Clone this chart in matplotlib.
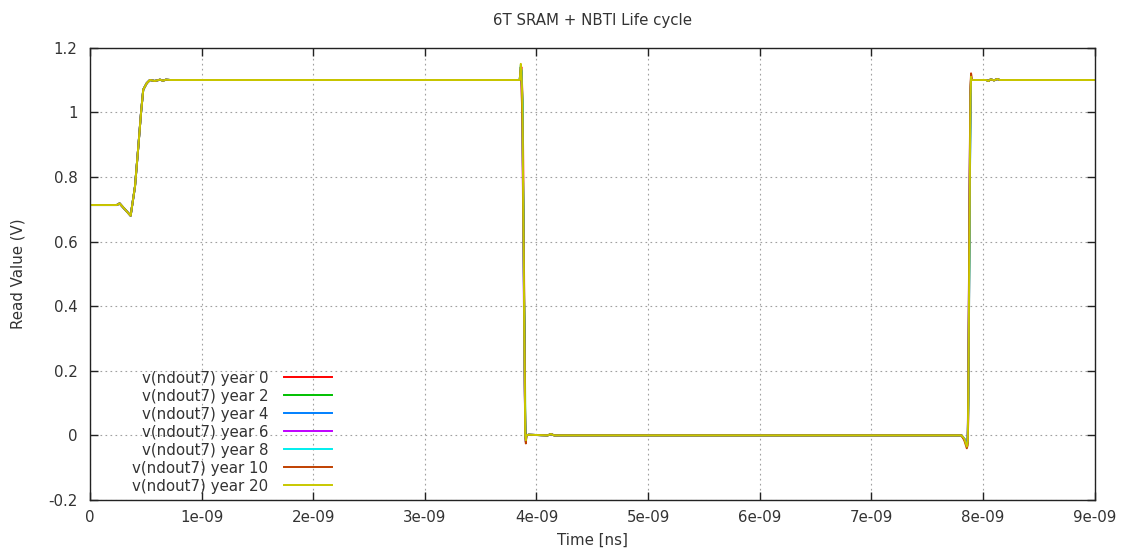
import matplotlib
matplotlib.use("Agg")
import matplotlib.pyplot as plt

plt.rcParams['font.family'] = ['DejaVu Sans']

# ---- data (times in ns, values in V) ----
t_start = [0.0, 0.24, 0.265, 0.364, 0.403, 0.433, 0.457, 0.477, 0.508, 0.537,
           0.58, 0.627, 0.654, 0.68, 0.72]
v_start = [0.713, 0.713, 0.718, 0.680, 0.77, 0.894, 0.998, 1.070, 1.090, 1.100,
           1.097, 1.101, 1.098, 1.101, 1.100]

t_fall = [3.81, 3.85, 3.855, 3.860, 3.865, 3.870, 3.875, 3.880, 3.885, 3.890,
          3.895, 3.900, 3.905, 3.910, 3.93]
t_low = [4.10, 4.13, 4.16, 7.80]
v_low = [0.0, 0.004, 0.0, 0.0]
t_rise = [7.808, 7.833, 7.856, 7.864, 7.869, 7.874, 7.879, 7.884, 7.889, 7.894,
          7.899, 7.907, 7.925]
t_high = [8.03, 8.05, 8.07, 8.10, 8.13, 8.15, 9.0]
v_high = [1.100, 1.097, 1.102, 1.099, 1.103, 1.100, 1.100]

fall_y0 = [1.10, 1.10, 1.11, 1.13, 1.14, 1.10, 1.04, 0.90, 0.70, 0.45, 0.16, 0.02, -0.02, 0.00, 0.002]
fall_y2 = [1.10, 1.10, 1.12, 1.14, 1.13, 1.09, 1.02, 0.80, 0.62, 0.42, 0.30, 0.05, -0.01, 0.00, 0.002]
fall_y4 = [1.10, 1.10, 1.12, 1.14, 1.12, 1.08, 1.00, 0.78, 0.58, 0.38, 0.19, 0.01, -0.02, 0.00, 0.002]
fall_y6 = [1.10, 1.10, 1.11, 1.13, 1.11, 1.04, 0.92, 0.70, 0.50, 0.33, 0.15, 0.00, -0.015, 0.00, 0.002]
fall_y8 = [1.10, 1.10, 1.12, 1.145, 1.12, 1.08, 1.00, 0.79, 0.59, 0.36, 0.17, 0.00, -0.01, 0.00, 0.002]
fall_y10 = [1.10, 1.10, 1.12, 1.14, 1.10, 1.03, 0.95, 0.74, 0.60, 0.40, 0.20, 0.01, -0.025, 0.00, 0.002]
fall_y20 = [1.10, 1.10, 1.12, 1.15, 1.12, 1.08, 1.00, 0.78, 0.58, 0.37, 0.18, 0.00, -0.015, 0.00, 0.002]

rise_y0 = [0.0, -0.012, -0.03, -0.02, 0.05, 0.30, 0.55, 0.82, 1.03, 1.12, 1.10, 1.10, 1.10]
rise_y2 = [0.0, -0.01, -0.03, -0.01, 0.12, 0.38, 0.63, 0.88, 1.06, 1.11, 1.10, 1.10, 1.10]
rise_y4 = [0.0, -0.01, -0.03, -0.02, 0.10, 0.33, 0.58, 0.80, 1.00, 1.10, 1.10, 1.10, 1.10]
rise_y6 = [0.0, -0.01, -0.03, -0.01, 0.15, 0.42, 0.70, 0.90, 1.05, 1.11, 1.10, 1.10, 1.10]
rise_y8 = [0.0, -0.01, -0.03, -0.02, 0.08, 0.30, 0.52, 0.80, 1.02, 1.10, 1.10, 1.10, 1.10]
rise_y10 = [0.0, -0.015, -0.04, -0.03, 0.12, 0.40, 0.68, 0.92, 1.08, 1.12, 1.10, 1.10, 1.10]
rise_y20 = [0.0, -0.01, -0.035, -0.02, 0.10, 0.35, 0.60, 0.85, 1.05, 1.11, 1.10, 1.10, 1.10]

labels = ["v(ndout7) year 0", "v(ndout7) year 2", "v(ndout7) year 4",
          "v(ndout7) year 6", "v(ndout7) year 8", "v(ndout7) year 10",
          "v(ndout7) year 20"]
falls = [fall_y0, fall_y2, fall_y4, fall_y6, fall_y8, fall_y10, fall_y20]
rises = [rise_y0, rise_y2, rise_y4, rise_y6, rise_y8, rise_y10, rise_y20]
colors = ["#ff0000", "#00c000", "#0080ff", "#c000ff", "#00eeee", "#c04000", "#c8c800"]

x_ticks = [0, 1e-9, 2e-9, 3e-9, 4e-9, 5e-9, 6e-9, 7e-9, 8e-9, 9e-9]
x_ticklabels = ["0", "1e-09", "2e-09", "3e-09", "4e-09", "5e-09", "6e-09",
                "7e-09", "8e-09", "9e-09"]
y_ticks = [-0.2, 0.0, 0.2, 0.4, 0.6, 0.8, 1.0, 1.2]
y_ticklabels = ["-0.2", "0", "0.2", "0.4", "0.6", "0.8", "1", "1.2"]

FS = 10.8

# ---- figure ----
fig = plt.figure(figsize=(11.25, 5.55), dpi=100)
ax = fig.add_axes([90 / 1125, 1 - 500 / 555, (1094.5 - 90) / 1125, (500 - 47.7) / 555])

t_all = t_start + t_fall + t_low + t_rise + t_high
t_sec = [t * 1e-9 for t in t_all]
handles = []
for lab, f, r, c in zip(labels, falls, rises, colors):
    v_all = v_start + f + v_low + r + v_high
    h, = ax.plot(t_sec, v_all, color=c, lw=1.4, label=lab)
    handles.append(h)

ax.set_xlim(0, 9e-9)
ax.set_ylim(-0.2, 1.2)
ax.set_xticks(x_ticks)
ax.set_xticklabels(x_ticklabels)
ax.set_yticks(y_ticks)
ax.set_yticklabels(y_ticklabels)
ax.tick_params(direction='in', length=6, width=1, top=True, right=True,
               labelsize=FS, colors='#222222', labelcolor='#333333')
ax.tick_params(axis='y', pad=9)
ax.tick_params(axis='x', pad=7)
ax.grid(True, color='#a0a0a0', linestyle=(0, (1.5, 3)), lw=0.8)
for s in ax.spines.values():
    s.set_color('#222222')
    s.set_linewidth(1.0)

ax.set_title("6T SRAM + NBTI Life cycle", fontsize=FS, pad=16, color='#333333')
ax.set_xlabel("Time [ns]", fontsize=FS, labelpad=6, color='#333333')
ax.set_ylabel("Read Value (V)", fontsize=FS, labelpad=16, color='#333333')

leg = ax.legend(handles=handles, loc='upper right',
                bbox_to_anchor=(339 / 1125, 1 - 363 / 555),
                bbox_transform=fig.transFigure, frameon=False,
                markerfirst=False, fontsize=FS, borderpad=0,
                labelspacing=0.2, handlelength=3.2, handletextpad=1.0)
for txt in leg.get_texts():
    txt.set_color('#333333')

fig.savefig("out.png", dpi=100)
